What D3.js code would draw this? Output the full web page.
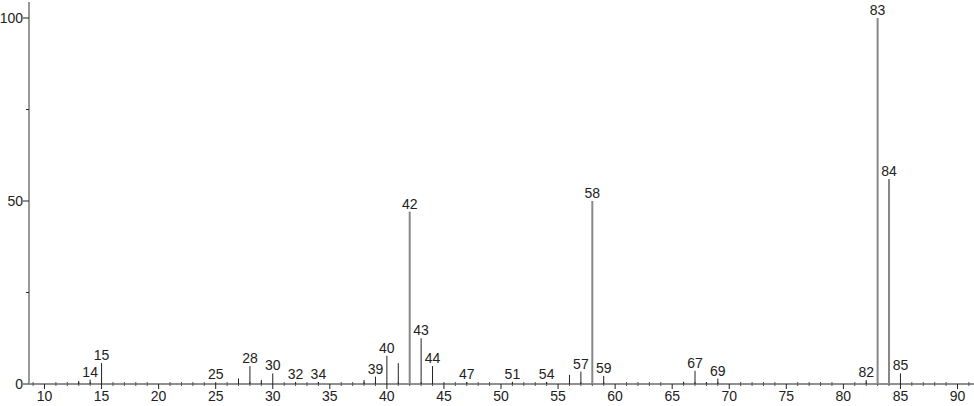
<!DOCTYPE html>
<html>
<head>
<meta charset="utf-8">
<script src="https://cdn.jsdelivr.net/npm/d3@7"></script>
<style>
  html, body { margin: 0; padding: 0; background: #fff; }
  svg { display: block; }
  text { font-family: "Liberation Sans", Arial, sans-serif; font-size: 14px; fill: #222; }
</style>
</head>
<body>
<svg id="chart" width="974" height="406"></svg>
<script>
// m/z values of peaks
const mz = [13, 14, 15, 25, 27, 28, 29, 30, 32, 34, 38, 39, 40, 41, 42, 43, 44, 45, 47, 51, 54, 56, 57, 58, 59, 66, 67, 68, 69, 82, 83, 84, 85];
// relative intensities
const intensity = [0.8, 1.2, 5.7, 0.5, 1.5, 4.9, 1.1, 2.9, 0.5, 0.5, 1.1, 2.0, 7.7, 5.7, 47.1, 12.5, 4.9, 0.5, 0.5, 0.6, 0.6, 2.5, 3.4, 50.0, 2.2, 0.6, 3.6, 0.5, 1.5, 1.1, 100, 56.0, 2.9];
// peaks that carry a label
const labeled = [14, 15, 25, 28, 30, 32, 34, 39, 40, 42, 43, 44, 47, 51, 54, 57, 58, 59, 67, 69, 82, 83, 84, 85];
// axis ticks
const xMajorTicks = [10, 15, 20, 25, 30, 35, 40, 45, 50, 55, 60, 65, 70, 75, 80, 85, 90];
const yMajorTicks = [0, 50, 100];
const yMinorTicks = [25, 75];

const svg = d3.select("#chart");
const W = 974, H = 406;
const x0 = 29, yBase = 384;

const x = d3.scaleLinear().domain([10, 90]).range([44.5, 957.5]);
const y = d3.scaleLinear().domain([0, 100]).range([yBase, 18]);

const xMinorTicks = d3.range(9, 92).filter(v => x(v) > x0 + 1 && x(v) < W && v % 5 !== 0);

// x axis line
svg.append("line").attr("x1", x0).attr("x2", W).attr("y1", yBase).attr("y2", yBase)
  .attr("stroke", "#222").attr("stroke-width", 1);

// x minor ticks
svg.append("g").selectAll("line").data(xMinorTicks).join("line")
  .attr("x1", d => x(d)).attr("x2", d => x(d))
  .attr("y1", yBase - 2).attr("y2", yBase + 2)
  .attr("stroke", "#555").attr("stroke-width", 1);

// x major ticks + labels
const xg = svg.append("g");
xg.selectAll("line").data(xMajorTicks).join("line")
  .attr("x1", d => x(d)).attr("x2", d => x(d))
  .attr("y1", yBase).attr("y2", yBase + 5)
  .attr("stroke", "#222").attr("stroke-width", 1);
xg.selectAll("text").data(xMajorTicks).join("text")
  .attr("x", d => x(d)).attr("y", 401)
  .attr("text-anchor", "middle")
  .text(d => d);

// y axis line
svg.append("line").attr("x1", x0).attr("x2", x0).attr("y1", yBase).attr("y2", 2)
  .attr("stroke", "#999").attr("stroke-width", 2);

// y ticks
const yg = svg.append("g");
yg.selectAll("line.maj").data(yMajorTicks).join("line").attr("class", "maj")
  .attr("x1", x0 - 6).attr("x2", x0)
  .attr("y1", d => y(d)).attr("y2", d => y(d))
  .attr("stroke", "#222").attr("stroke-width", 1);
yg.selectAll("line.min").data(yMinorTicks).join("line").attr("class", "min")
  .attr("x1", x0 - 3).attr("x2", x0)
  .attr("y1", d => y(d)).attr("y2", d => y(d))
  .attr("stroke", "#222").attr("stroke-width", 1);
yg.selectAll("text").data(yMajorTicks).join("text")
  .attr("x", x0 - 6).attr("y", d => y(d) + 5)
  .attr("text-anchor", "end")
  .text(d => d);

// peaks
const peaks = mz.map((m, i) => ({ m, v: intensity[i] }));
svg.append("g").selectAll("line").data(peaks).join("line")
  .attr("x1", d => x(d.m)).attr("x2", d => x(d.m))
  .attr("y1", yBase).attr("y2", d => y(d.v))
  .attr("stroke", d => d.v > 30 ? "#888" : "#222")
  .attr("stroke-width", d => d.v > 30 ? 2 : 1);

// peak labels
svg.append("g").selectAll("text").data(peaks.filter(d => labeled.includes(d.m))).join("text")
  .attr("x", d => x(d.m)).attr("y", d => Math.min(y(d.v), yBase - 2) - 3)
  .attr("text-anchor", "middle")
  .text(d => d.m);
</script>
</body>
</html>
